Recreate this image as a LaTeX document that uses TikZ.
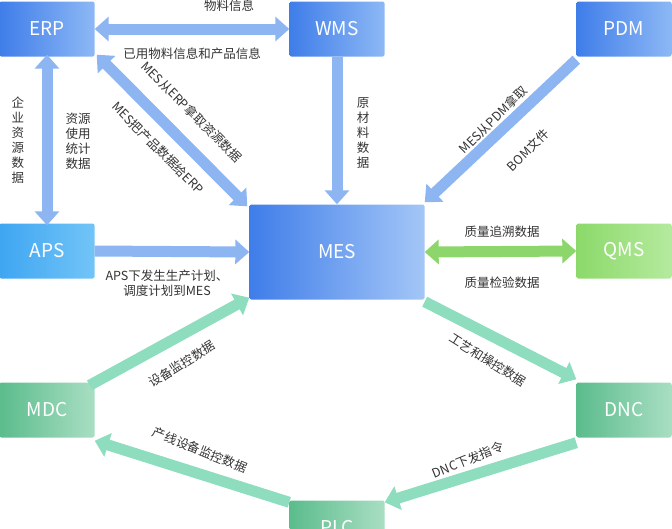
\documentclass[tikz,border=0pt]{standalone}
\usepackage{fontspec}
\setmainfont{Noto Sans CJK SC}
\usetikzlibrary{arrows.meta}
\definecolor{bluedark}{HTML}{3F7DE9}
\definecolor{bluelight}{HTML}{8DB8F5}
\definecolor{cyandark}{HTML}{3FA6F2}
\definecolor{cyanlight}{HTML}{72C4F7}
\definecolor{greendark}{HTML}{5BBC8C}
\definecolor{greenlight}{HTML}{A9DEC3}
\definecolor{limedark}{HTML}{8CD96A}
\definecolor{limelight}{HTML}{B5EA9E}
\definecolor{bluearrow}{HTML}{8CB5F2}
\definecolor{greenarrow}{HTML}{8EDDBF}
\definecolor{limearrow}{HTML}{8DD66C}
\tikzstyle{sys} = [rectangle, rounded corners=2pt, minimum width=95pt, minimum height=55pt, text=white, font=\fontsize{19}{19}\selectfont, left color=bluedark, right color=bluelight]
\tikzstyle{plan} = [sys, left color=cyandark, right color=cyanlight]
\tikzstyle{core} = [sys, minimum width=175pt, minimum height=95pt, left color=bluedark, right color=bluelight!80!white]
\tikzstyle{shop} = [sys, left color=greendark, right color=greenlight]
\tikzstyle{quality} = [sys, left color=limedark, right color=limelight]
\tikzstyle{flow} = [line width=11pt, draw=bluearrow, -{Triangle[width=24pt,length=14pt]}]
\tikzstyle{both} = [flow, {Triangle[width=24pt,length=14pt]}-{Triangle[width=24pt,length=14pt]}]
\tikzstyle{gflow} = [flow, draw=greenarrow]
\tikzstyle{lbl} = [font=\fontsize{12.5}{15}\selectfont, text=black!80, inner sep=1pt]

\begin{document}
\begin{tikzpicture}[x=1pt, y=-1pt]

    \useasboundingbox (0,0) rectangle (672,528);

    \node (erp) [sys] at (47,29) {ERP};
    \node (wms) [sys] at (337,29) {WMS};
    \node (pdm) [sys] at (624,29) {PDM};
    \node (aps) [plan] at (47,251) {APS};
    \node (mes) [core] at (337,252) {MES};
    \node (qms) [quality] at (624,251) {QMS};
    \node (mdc) [shop] at (47,410) {MDC};
    \node (dnc) [shop] at (624,410) {DNC};
    \node (plc) [shop] at (337,528) {PLC};

    % upper part
    \draw [both] (erp.east) -- (wms.west);
    \draw [both] ([yshift=2pt]erp.south) -- ([yshift=-2pt]aps.north);
    \draw [both] ([shift={(2pt,2pt)}]erp.south east) -- ([shift={(-2pt,-2pt)}]mes.north west);
    \draw [flow] (wms.south) -- (mes.north);
    \draw [flow] ([yshift=-3pt]pdm.south west) -- ([yshift=2pt]mes.north east);
    \draw [flow] (aps.east) -- (mes.west);
    \draw [both, draw=limearrow] (mes.east) -- (qms.west);

    % lower part
    \draw [gflow] ([shift={(-5pt,-3pt)}]mdc.north east) -- ([yshift=2pt]mes.south west);
    \draw [gflow] ([yshift=-2pt]mes.south east) -- ([yshift=3pt]dnc.north west);
    \draw [gflow] ([yshift=-5pt]dnc.south west) -- ([yshift=-2pt]plc.north east);
    \draw [gflow] ([yshift=-2pt]plc.north west) -- ([yshift=-3pt]mdc.south east);

    % labels
    \node (l1) [lbl] at (229,6) {物料信息};
    \node (l2) [lbl] at (192,54) {已用物料信息和产品信息};
    \node (l3) [lbl, align=center] at (18,140) {企\\业\\资\\源\\数\\据};
    \node (l4) [lbl, align=center] at (78,141) {资源\\使用\\统计\\数据};
    \node (l5) [lbl, rotate=-45] at (192,112) {MES从ERP拿取资源数据};
    \node (l6) [lbl, rotate=-45] at (158,148) {MES把产品数据给ERP};
    \node (l7) [lbl, align=center] at (363,133) {原\\材\\料\\数\\据};
    \node (l8) [lbl, rotate=45] at (493,120) {MES从PDM拿取};
    \node (l9) [lbl, rotate=45] at (528,150) {BOM文件};
    \node (l10) [lbl, align=center] at (167,283) {APS下发生生产计划、\\调度计划到MES};
    \node (l11) [lbl] at (502,232) {质量追溯数据};
    \node (l12) [lbl] at (502,283) {质量检验数据};
    \node (l13) [lbl, rotate=32] at (182,364) {设备监控数据};
    \node (l14) [lbl, rotate=-32] at (488,360) {工艺和操控数据};
    \node (l15) [lbl, rotate=22] at (468,460) {DNC下发指令};
    \node (l16) [lbl, rotate=-22] at (200,450) {产线设备监控数据};

\end{tikzpicture}
\end{document}
